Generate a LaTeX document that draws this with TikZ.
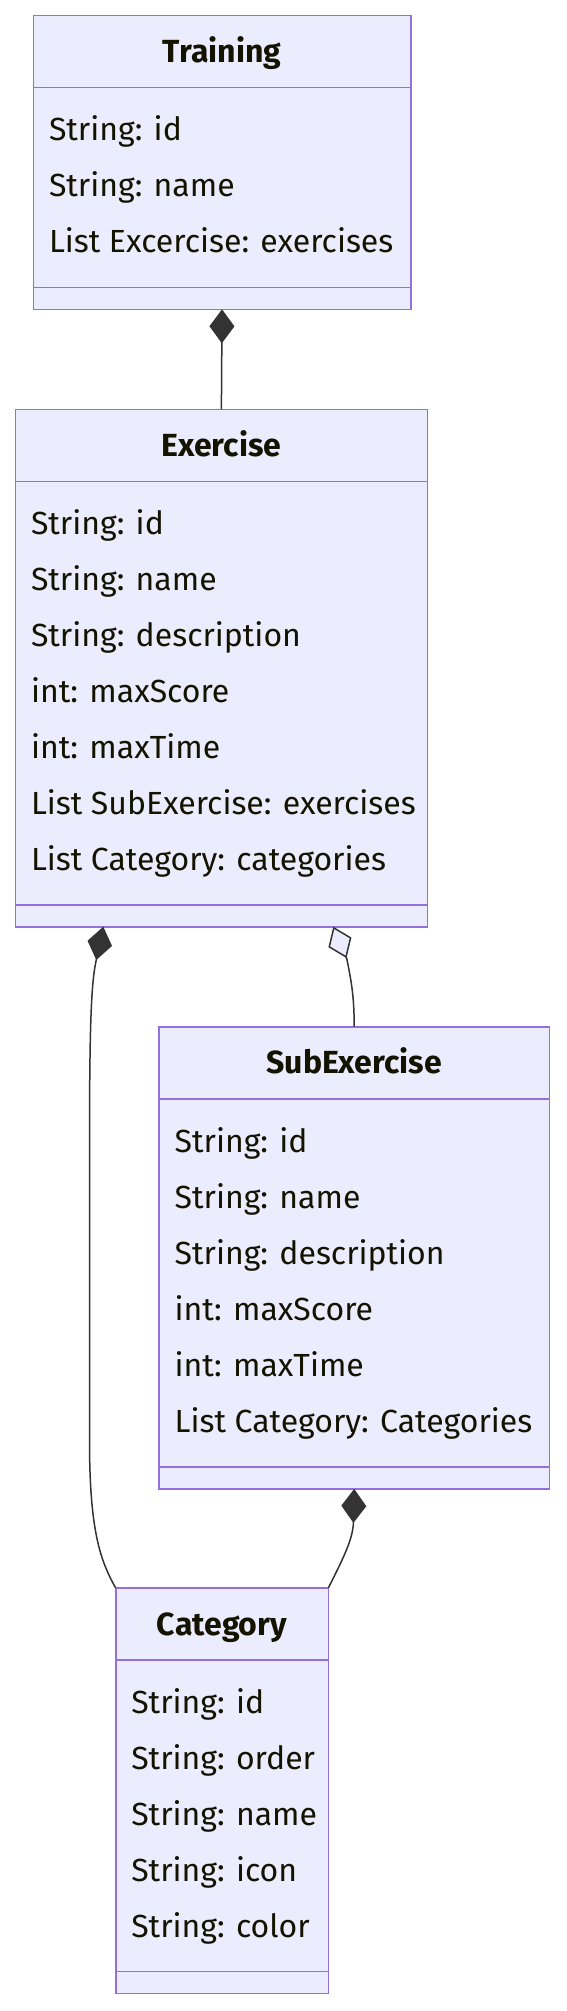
\documentclass[tikz,border=0pt]{standalone}
\usepackage{fontspec}
\setmainfont{Fira Sans}
\usetikzlibrary{arrows.meta}
\definecolor{boxfill}{HTML}{ECECFF}
\definecolor{boxline}{HTML}{9370DB}
\definecolor{linec}{HTML}{333333}
\definecolor{txt}{HTML}{131300}
\tikzset{
  comp/.tip={Diamond[length=34pt,width=25pt]},
  aggr/.tip={Diamond[length=34pt,width=25pt,fill=boxfill]},
  classbox/.style={draw=boxline, fill=boxfill, line width=1.6pt, rectangle, inner sep=0pt, outer sep=0pt, anchor=north west},
  sepline/.style={draw=boxline, line width=1.6pt},
  ctitle/.style={font=\fontsize{32}{36}\selectfont\bfseries, text=txt, inner sep=0pt, text height=22pt, text depth=0pt},
  attr/.style={font=\fontsize{32}{36}\selectfont, text=txt, inner sep=0pt, anchor=west, text height=22pt, text depth=0pt},
  conn/.style={draw=linec, line width=1.5pt}
}
\begin{document}
\begin{tikzpicture}[x=1pt,y=-1pt]
\useasboundingbox (0,0) rectangle (566,2011);
% Training
\node[classbox, minimum width=377.3pt, minimum height=293.9pt] (tr) at (33.4,15.4) {};
\draw[sepline] ([yshift=-72pt]tr.north west) -- ([yshift=-72pt]tr.north east);
\draw[sepline] ([yshift=22pt]tr.south west) -- ([yshift=22pt]tr.south east);
\node[ctitle] (trt) at ([yshift=-36pt]tr.north) {Training};
\node[attr] (tr1) at (48.8,129.7) {String: id};
\node[attr] (tr2) at (48.8,185.7) {String: name};
\node[attr] (tr3) at (48.8,241.7) {List Excercise: exercises};
% Exercise
\node[classbox, minimum width=412pt, minimum height=517.3pt] (ex) at (15.4,409.4) {};
\draw[sepline] ([yshift=-72pt]ex.north west) -- ([yshift=-72pt]ex.north east);
\draw[sepline] ([yshift=22pt]ex.south west) -- ([yshift=22pt]ex.south east);
\node[ctitle] (ext) at ([yshift=-36pt]ex.north) {Exercise};
\node[attr] (ex1) at (30.8,523.7) {String: id};
\node[attr] (ex2) at (30.8,579.7) {String: name};
\node[attr] (ex3) at (30.8,635.7) {String: description};
\node[attr] (ex4) at (30.8,691.7) {int: maxScore};
\node[attr] (ex5) at (30.8,747.7) {int: maxTime};
\node[attr] (ex6) at (30.8,803.7) {List SubExercise: exercises};
\node[attr] (ex7) at (30.8,859.7) {List Category: categories};
% SubExercise
\node[classbox, minimum width=390.2pt, minimum height=462.2pt] (sub) at (159.1,1026.7) {};
\draw[sepline] ([yshift=-72pt]sub.north west) -- ([yshift=-72pt]sub.north east);
\draw[sepline] ([yshift=22pt]sub.south west) -- ([yshift=22pt]sub.south east);
\node[ctitle] (subt) at ([yshift=-36pt]sub.north) {SubExercise};
\node[attr] (sub1) at (174.5,1141) {String: id};
\node[attr] (sub2) at (174.5,1197) {String: name};
\node[attr] (sub3) at (174.5,1253) {String: description};
\node[attr] (sub4) at (174.5,1309) {int: maxScore};
\node[attr] (sub5) at (174.5,1365) {int: maxTime};
\node[attr] (sub6) at (174.5,1421) {List Category: Categories};
% Category
\node[classbox, minimum width=212.6pt, minimum height=405.4pt] (ca) at (115.7,1588) {};
\draw[sepline] ([yshift=-72pt]ca.north west) -- ([yshift=-72pt]ca.north east);
\draw[sepline] ([yshift=22pt]ca.south west) -- ([yshift=22pt]ca.south east);
\node[ctitle] (cat) at ([yshift=-36pt]ca.north) {Category};
\node[attr] (ca1) at (131.1,1702.3) {String: id};
\node[attr] (ca2) at (131.1,1758.3) {String: order};
\node[attr] (ca3) at (131.1,1814.3) {String: name};
\node[attr] (ca4) at (131.1,1870.3) {String: icon};
\node[attr] (ca5) at (131.1,1926.3) {String: color};
% connectors
\draw[conn, {comp}-] (tr.south) -- (ex.north);
\draw[conn, {comp}-] ([xshift=87.9pt]ex.south west) -- ++(-7.4,35)
  .. controls (91,985) and (89.5,1030) .. (89.5,1150) -- (89.5,1440)
  .. controls (89.5,1530) and (100,1560) .. (ca.north west);
\draw[conn, {aggr}-] ([xshift=317.9pt]ex.south west) -- ++(13.5,32)
  .. controls (351,980) and (354.2,995) .. (sub.north);
\draw[conn, {comp}-] (sub.south) -- ++(-0.8,35)
  .. controls (352,1540) and (345,1555) .. (ca.north east);
\end{tikzpicture}
\end{document}
